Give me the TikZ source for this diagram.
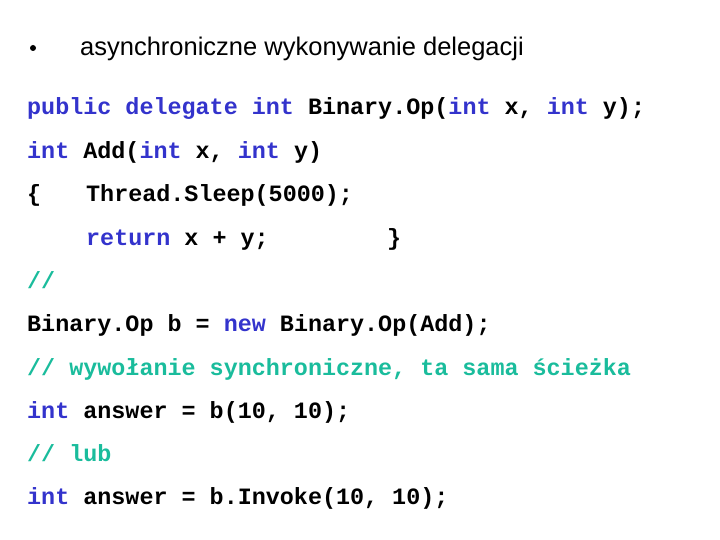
\documentclass[tikz,border=0pt]{standalone}
\usepackage{fontspec}
\setmainfont{Liberation Sans}
\setmonofont{Liberation Mono}
\definecolor{kw}{HTML}{3333CC}
\definecolor{cm}{HTML}{1ABC9C}
\begin{document}
\begin{tikzpicture}[x=1pt,y=-1pt,
  code/.style={anchor=base west,inner sep=0pt,font=\fontsize{23.4}{26}\ttfamily\bfseries}]
\useasboundingbox (0,0) rectangle (720,540);
\newcommand\K[1]{\textcolor{kw}{#1}}
\newcommand\C[1]{\textcolor{cm}{#1}}
\node[circle,fill=black,inner sep=0pt,minimum size=6pt] (bul) at (33,48) {};
\node[anchor=base west,inner sep=0pt,font=\fontsize{25.5}{30}\selectfont] (title) at (80,56) {asynchroniczne wykonywanie delegacji};
\node[code] (l1) at (27,115) {\K{public delegate int} Binary.Op(\K{int} x, \K{int} y);};
\node[code] (l2) at (27,159) {\K{int} Add(\K{int} x, \K{int} y)};
\node[code] (l3a) at (27,202) {\{};
\node[code] (l3b) at (86,202) {Thread.Sleep(5000);};
\node[code] (l4a) at (86,245) {\K{return} x + y;};
\node[code] (l4b) at (387,245) {\}};
\node[code] (l5) at (27,288) {\C{//}};
\node[code] (l6) at (27,331) {Binary.Op b = \K{new} Binary.Op(Add);};
\node[code] (l7) at (27,375) {\C{// wywołanie synchroniczne, ta sama ścieżka}};
\node[code] (l8) at (27,418) {\K{int} answer = b(10, 10);};
\node[code] (l9) at (27,461) {\C{// lub}};
\node[code] (l10) at (27,504) {\K{int} answer = b.Invoke(10, 10);};
\end{tikzpicture}
\end{document}
